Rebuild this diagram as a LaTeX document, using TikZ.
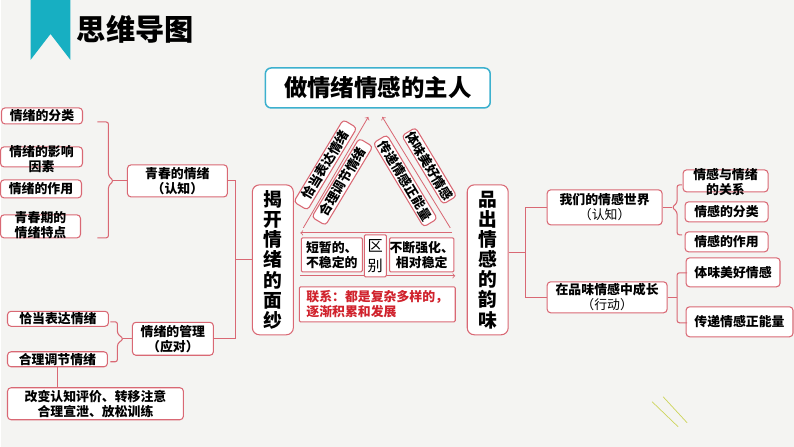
\documentclass[tikz,border=0pt]{standalone}
\usepackage{fontspec}
\setmainfont{Noto Sans CJK SC}
\definecolor{boxred}{RGB}{217,104,116}
\definecolor{ribbon}{RGB}{23,175,194}
\definecolor{titleblue}{RGB}{60,176,206}
\definecolor{linkred}{RGB}{208,34,44}
\definecolor{paper}{RGB}{244,244,242}
\definecolor{deco}{RGB}{205,212,90}
\begin{document}
\begin{tikzpicture}[x=0.03cm,y=-0.03cm]
	\tikzstyle{every node}+=[inner sep=0pt, align=center, font=\fontsize{11}{13}\selectfont\bfseries]
	\tikzstyle{box}=[draw=boxred, line width=0.9pt, rounded corners=3pt, fill=white]
	\tikzstyle{lnk}=[draw=boxred, line width=0.9pt]
	\tikzstyle{arr}=[draw=boxred, line width=0.7pt, ->]
	\tikzstyle{tilt}=[box, minimum height=0.48cm]
	\tikzstyle{tall}=[box, rounded corners=6pt, minimum width=1.23cm, minimum height=4.5cm, font=\fontsize{16}{17.2}\selectfont\bfseries]
	
	\fill [paper] (0,0) rectangle (794,447);
	\fill [ribbon] (30,0) -- (70,0) -- (70,60) -- (50,34) -- (30,60) -- cycle;
	\node [font=\fontsize{25}{27}\selectfont\bfseries] (head) at (135,29) {思维导图};
	\draw [deco, line width=0.6pt] (652,402) -- (678,427);
	\draw [deco, line width=0.6pt] (663,397) -- (687,423);
	
	\node [draw=titleblue, line width=1.3pt, rounded corners=5pt, fill=white, minimum width=6.75cm, minimum height=1.2cm, font=\fontsize{20}{22}\selectfont\bfseries] (title) at (377.5,88) {做情绪情感的主人};
	
	\node [box, minimum width=2.43cm, minimum height=0.48cm] (cat1) at (41.5,116) {情绪的分类};
	\node [box, minimum width=2.46cm, minimum height=0.6cm] (cat2) at (41,157) {};
	\node (cat2t) at (41,159.5) {情绪的影响\\因素};
	\node [box, minimum width=2.43cm, minimum height=0.54cm] (cat3) at (40.5,189) {情绪的作用};
	\node [box, minimum width=2.4cm, minimum height=0.69cm] (cat4) at (40,226.5) {};
	\node (cat4t) at (40,225.5) {青春期的\\情绪特点};
	\draw [lnk, rounded corners=2pt] (97,122) -- (108,122) -- (108,176) -- (113,181) -- (108,186) -- (108,238) -- (97,238);
	\coordinate (br1) at (113,181);
	\node [box, minimum width=3cm, minimum height=0.96cm] (qc) at (177,181) {青春的情绪\\（认知）};
	\draw [lnk] (br1) -- (qc.west);
	
	\node [box, minimum width=3.03cm, minimum height=0.45cm] (ex1) at (57.5,319) {恰当表达情绪};
	\node [box, minimum width=3cm, minimum height=0.45cm] (ex2) at (57,359.5) {合理调节情绪};
	\node [box, minimum width=5.28cm, minimum height=0.96cm] (ex3) at (95,404) {改变认知评价、转移注意\\合理宣泄、放松训练};
	\draw [lnk] (ex2.south) -- (ex2.south |- ex3.north);
	\draw [lnk, rounded corners=2pt] (110,322) -- (117,322) -- (117,334) -- (123,339) -- (117,344) -- (117,362) -- (110,362);
	\coordinate (br2) at (123,339);
	\node [box, minimum width=2.43cm, minimum height=0.99cm] (gl) at (172.5,339) {情绪的管理\\（应对）};
	\draw [lnk] (br2) -- (gl.west);
	
	\node [tall] (jk) at (272.5,260) {揭\\开\\情\\绪\\的\\面\\纱};
	\node [tall] (pc) at (487.5,260) {品\\出\\情\\感\\的\\韵\\味};
	\coordinate (sp1) at (235,181);
	\draw [lnk] (qc.east) -- (sp1) -- (sp1 |- gl.east) -- (gl.east);
	\draw [lnk] (jk.west) -- (jk.west -| sp1);
	
	\coordinate (tipL) at (368,117);
	\coordinate (baseL) at (303,228);
	\coordinate (tipR) at (382,117);
	\coordinate (baseR) at (450,228);
	\draw [arr] (baseL) -- (tipL);
	\draw [arr] (baseR) -- (tipR);
	\node [tilt, rotate=59, minimum width=2.88cm] (t1) at (325,165) {恰当表达情绪};
	\node [tilt, rotate=59, minimum width=2.76cm] (t2) at (342,182) {合理调节情绪};
	\node [tilt, rotate=-59, minimum width=2.94cm] (t3) at (405,181) {传递情感正能量};
	\node [tilt, rotate=-59, minimum width=2.4cm] (t4) at (429,166) {体味美好情感};
	
	\coordinate (hA) at (452,233);
	\coordinate (hB) at (300,233);
	\coordinate (hC) at (300,276);
	\coordinate (hD) at (455,276);
	\draw [arr] (hA) -- (hB);
	\draw [arr] (hC) -- (hD);
	\node [box, rounded corners=1pt, minimum width=1.83cm, minimum height=1.02cm] (d1) at (331.5,255) {短暂的、\\不稳定的};
	\node [box, rounded corners=1pt, minimum width=0.66cm, minimum height=1.26cm, font=\fontsize{13}{17}\selectfont] (qb) at (375,256) {区\\别};
	\node [box, rounded corners=1pt, minimum width=1.89cm, minimum height=1.02cm] (d2) at (421.5,255) {不断强化、\\相对稳定};
	\node [box, rounded corners=1pt, minimum width=4.68cm, minimum height=1.05cm, text=linkred, align=left] (lx) at (377,304.5) {联系：都是复杂多样的，\\逐渐积累和发展};
	
	\coordinate (sp2) at (525,253);
	\node [box, minimum width=3.45cm, minimum height=1.05cm] (wm) at (604.5,207.5) {我们的情感世界\\{\mdseries （认知）}};
	\node [box, minimum width=3.6cm, minimum height=0.93cm] (zc) at (607,297.5) {在品味情感中成长\\{\mdseries （行动）}};
	\draw [lnk] (pc.east |- sp2) -- (sp2);
	\draw [lnk] (wm.west) -| (sp2) |- (zc.west);
	
	\node [box, minimum width=2.55cm, minimum height=0.66cm] (r1) at (725.5,181) {};
	\node (r1t) at (725.5,182.5) {情感与情绪\\的关系};
	\node [box, minimum width=2.49cm, minimum height=0.6cm] (r2) at (726.5,212) {情感的分类};
	\node [box, minimum width=2.49cm, minimum height=0.6cm] (r3) at (726.5,242) {情感的作用};
	\node [box, minimum width=2.82cm, minimum height=0.87cm] (r4) at (733,272.5) {体味美好情感};
	\node [box, minimum width=3.21cm, minimum height=0.9cm] (r5) at (739.5,322) {传递情感正能量};
	\draw [lnk, rounded corners=2pt] (682,185) -- (677,185) -- (677,203) -- (672,207.5) -- (677,212) -- (677,235) -- (682,235);
	\coordinate (br3) at (672,207.5);
	\draw [lnk] (wm.east) -- (br3);
	\draw [lnk, rounded corners=2pt] (687,273) -- (677,273) -- (677,323) -- (687,323);
	\draw [lnk] (zc.east) -- (zc.east -| 677,0);
\end{tikzpicture}
\end{document}
